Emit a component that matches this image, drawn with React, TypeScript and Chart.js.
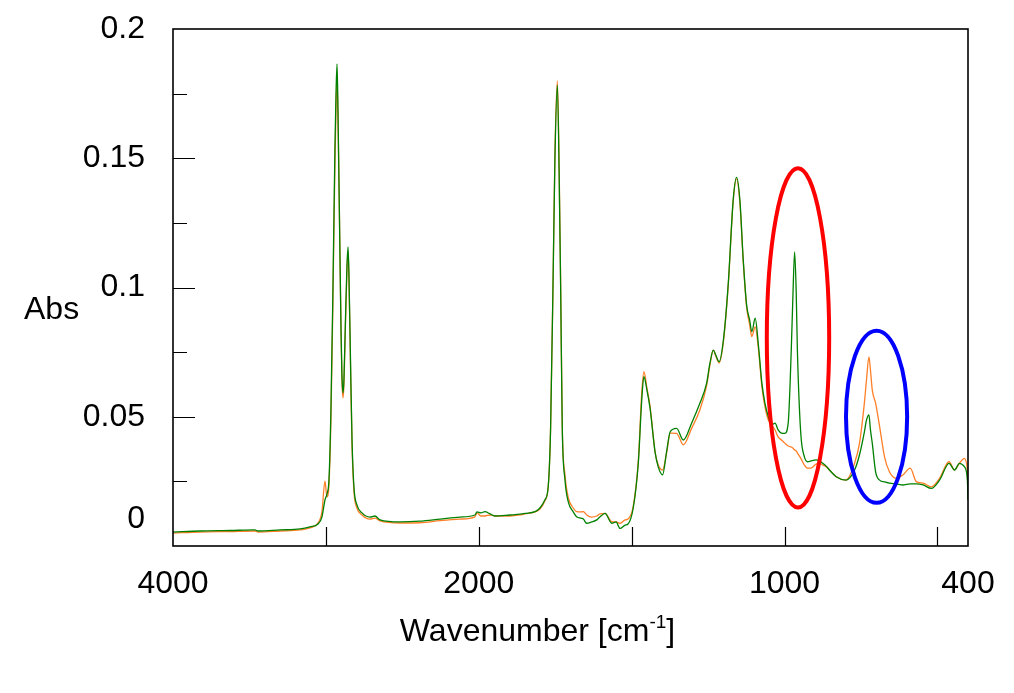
import React, { useEffect, useRef } from 'react';
import { Chart, registerables } from 'chart.js';

Chart.register(...registerables);

// Wavenumber (cm-1) of each sample point, shared by both spectra
const wavenumbers = [
  4000, 3823, 3627, 3464, 3444, 3300, 3169, 3104, 3052, 3026, 3006, 2993, 2980, 2967, 2954, 2941, 2934, 2927, 2921, 2911,
  2901, 2895, 2888, 2882, 2872, 2862, 2855, 2849, 2839, 2829, 2816, 2797, 2764, 2712, 2679, 2646, 2515, 2385, 2254, 2123,
  2025, 2012, 1993, 1980, 1963, 1947, 1898, 1865, 1849, 1816, 1800, 1784, 1773, 1765, 1756, 1751, 1743, 1737, 1732, 1727,
  1718, 1707, 1691, 1680, 1664, 1658, 1647, 1631, 1614, 1604, 1587, 1565, 1551, 1538, 1521, 1512, 1495, 1478, 1467, 1460,
  1450, 1440, 1423, 1413, 1399, 1385, 1374, 1353, 1331, 1304, 1277, 1255, 1244, 1233, 1225, 1214, 1200, 1184, 1168, 1157,
  1146, 1135, 1124, 1114, 1107, 1096, 1085, 1074, 1064, 1053, 1042, 1031, 1021, 1010, 999, 988, 978, 973, 967, 962,
  958, 947, 935, 924, 914, 897, 886, 875, 864, 853, 831, 799, 771, 755, 739, 732, 724, 719, 713, 702,
  689, 673, 657, 635, 613, 589, 569, 547, 520, 493, 462, 444, 428, 412, 402, 400,
];

// Green spectrum absorbance
const greenAbs = [
  0.0054, 0.0058, 0.0060, 0.0062, 0.0058, 0.0062, 0.0066, 0.0074, 0.0085, 0.0112, 0.0178, 0.0201, 0.0255, 0.0526, 0.0990, 0.1532, 0.1745, 0.1865, 0.1687, 0.1261,
  0.0836, 0.0662, 0.0592, 0.0642, 0.0874, 0.1087, 0.1157, 0.1048, 0.0720, 0.0410, 0.0224, 0.0159, 0.0128, 0.0112, 0.0116, 0.0101, 0.0093, 0.0096, 0.0104, 0.0112,
  0.0120, 0.0132, 0.0128, 0.0133, 0.0124, 0.0116, 0.0120, 0.0123, 0.0126, 0.0133, 0.0147, 0.0178, 0.0228, 0.0460, 0.1106, 0.1493, 0.1783, 0.1427, 0.0979, 0.0460,
  0.0255, 0.0170, 0.0132, 0.0113, 0.0107, 0.0104, 0.0088, 0.0093, 0.0101, 0.0112, 0.0126, 0.0088, 0.0093, 0.0068, 0.0081, 0.0085, 0.0146, 0.0325, 0.0565, 0.0655,
  0.0603, 0.0534, 0.0360, 0.0306, 0.0275, 0.0371, 0.0442, 0.0455, 0.0410, 0.0475, 0.0552, 0.0629, 0.0707, 0.0758, 0.0739, 0.0713, 0.0797, 0.1016, 0.1338, 0.1426,
  0.1338, 0.1106, 0.0932, 0.0874, 0.0829, 0.0881, 0.0771, 0.0629, 0.0552, 0.0500, 0.0468, 0.0475, 0.0449, 0.0437, 0.0436, 0.0476, 0.0758, 0.0952, 0.1138, 0.0990,
  0.0758, 0.0437, 0.0345, 0.0326, 0.0329, 0.0333, 0.0329, 0.0320, 0.0309, 0.0294, 0.0268, 0.0255, 0.0294, 0.0352, 0.0441, 0.0487, 0.0507, 0.0449, 0.0397, 0.0286,
  0.0255, 0.0248, 0.0243, 0.0240, 0.0236, 0.0240, 0.0240, 0.0236, 0.0223, 0.0255, 0.0320, 0.0294, 0.0320, 0.0307, 0.0255, 0.0178,
];

// Orange spectrum absorbance
const orangeAbs = [
  0.0050, 0.0054, 0.0056, 0.0058, 0.0054, 0.0058, 0.0062, 0.0070, 0.0089, 0.0132, 0.0251, 0.0190, 0.0236, 0.0487, 0.0952, 0.1474, 0.1687, 0.1803, 0.1667, 0.1261,
  0.0836, 0.0642, 0.0573, 0.0623, 0.0855, 0.1068, 0.1137, 0.1029, 0.0700, 0.0391, 0.0209, 0.0147, 0.0120, 0.0104, 0.0108, 0.0097, 0.0089, 0.0090, 0.0098, 0.0104,
  0.0113, 0.0128, 0.0116, 0.0116, 0.0120, 0.0116, 0.0116, 0.0120, 0.0124, 0.0132, 0.0143, 0.0174, 0.0228, 0.0460, 0.1106, 0.1513, 0.1799, 0.1455, 0.0990, 0.0468,
  0.0275, 0.0186, 0.0147, 0.0133, 0.0132, 0.0133, 0.0120, 0.0112, 0.0116, 0.0124, 0.0126, 0.0094, 0.0093, 0.0088, 0.0101, 0.0104, 0.0152, 0.0333, 0.0592, 0.0674,
  0.0611, 0.0542, 0.0360, 0.0313, 0.0294, 0.0364, 0.0437, 0.0436, 0.0391, 0.0455, 0.0526, 0.0619, 0.0700, 0.0758, 0.0735, 0.0708, 0.0789, 0.1010, 0.1333, 0.1420,
  0.1327, 0.1099, 0.0925, 0.0855, 0.0810, 0.0848, 0.0758, 0.0615, 0.0538, 0.0487, 0.0468, 0.0449, 0.0422, 0.0410, 0.0398, 0.0387, 0.0383, 0.0379, 0.0371, 0.0368,
  0.0360, 0.0340, 0.0313, 0.0301, 0.0301, 0.0317, 0.0320, 0.0313, 0.0307, 0.0294, 0.0268, 0.0255, 0.0320, 0.0397, 0.0552, 0.0642, 0.0732, 0.0681, 0.0603, 0.0552,
  0.0462, 0.0345, 0.0287, 0.0262, 0.0275, 0.0301, 0.0249, 0.0243, 0.0229, 0.0262, 0.0326, 0.0294, 0.0320, 0.0339, 0.0294, 0.0255,
];

const xTickWavenumbers = [3000, 2000, 1500, 1000, 500];
const xLabelWavenumbers = [4000, 2000, 1000, 400];
const yMajorValues = [0, 0.05, 0.1, 0.15, 0.2];
const yMinorValues = [0.025, 0.075, 0.125, 0.175];
const yLabels = ['0', '0.05', '0.1', '0.15', '0.2'];
const xTitle = 'Wavenumber [cm';
const xTitleSup = '-1';
const xTitleEnd = ']';
const yTitle = 'Abs';

// Highlight ellipses in data units: centre wavenumber, centre absorbance, half-width (cm-1), half-height (abs)
const ellipseCentersW = [956, 699];
const ellipseCentersA = [0.0805, 0.05];
const ellipseHalfW = [102, 100];
const ellipseHalfA = [0.0656, 0.0333];
const ellipseColors = ['#ff0000', '#0000ff'];

const FONT = '"Liberation Sans", Arial, sans-serif';
const FONT_SIZE = 32;

// FTIR axis: 4000-2000 at half scale, 2000-400 at full scale
const toT = (w: number) => (w >= 2000 ? (4000 - w) / 2 : 1000 + (2000 - w));

const decorPlugin = {
  id: 'decor',
  afterDatasetsDraw(chart: any) {
    const { ctx, chartArea } = chart;
    const xs = chart.scales.x;
    const ys = chart.scales.y;
    const { left, right, top, bottom } = chartArea;
    ctx.save();
    // ellipses
    ellipseCentersW.forEach((w, i) => {
      const cx = xs.getPixelForValue(toT(w));
      const cy = ys.getPixelForValue(ellipseCentersA[i]);
      const rx = Math.abs(xs.getPixelForValue(toT(w + ellipseHalfW[i])) - xs.getPixelForValue(toT(w - ellipseHalfW[i]))) / 2;
      const ry = Math.abs(ys.getPixelForValue(ellipseCentersA[i] + ellipseHalfA[i]) - ys.getPixelForValue(ellipseCentersA[i] - ellipseHalfA[i])) / 2;
      ctx.beginPath();
      ctx.ellipse(cx, cy, rx, ry, 0, 0, Math.PI * 2);
      ctx.strokeStyle = ellipseColors[i];
      ctx.lineWidth = 4;
      ctx.stroke();
    });
    // ticks
    ctx.strokeStyle = '#000';
    ctx.lineWidth = 1.2;
    ctx.beginPath();
    xTickWavenumbers.forEach((w) => {
      const px = Math.round(xs.getPixelForValue(toT(w))) + 0.5;
      ctx.moveTo(px, bottom);
      ctx.lineTo(px, bottom - 19);
    });
    yMajorValues.forEach((v) => {
      if (v <= 0 || v >= 0.2) return;
      const py = Math.round(ys.getPixelForValue(v)) + 0.5;
      ctx.moveTo(left, py);
      ctx.lineTo(left + 22, py);
    });
    yMinorValues.forEach((v) => {
      const py = Math.round(ys.getPixelForValue(v)) + 0.5;
      ctx.moveTo(left, py);
      ctx.lineTo(left + 14, py);
    });
    ctx.stroke();
    // frame
    ctx.lineWidth = 1.6;
    ctx.strokeRect(left, top, right - left, bottom - top);
    // "0" label, lifted above the x labels
    ctx.fillStyle = '#000';
    ctx.font = `${FONT_SIZE}px ${FONT}`;
    ctx.textAlign = 'right';
    ctx.textBaseline = 'middle';
    ctx.fillText(yLabels[0], left - 28, ys.getPixelForValue(0) - 27);
    // y title
    ctx.textAlign = 'left';
    ctx.textBaseline = 'alphabetic';
    ctx.fillText(yTitle, 24, 319);
    // x title with superscript
    const w1 = ctx.measureText(xTitle).width;
    const w3 = ctx.measureText(xTitleEnd).width;
    ctx.font = `19px ${FONT}`;
    const w2 = ctx.measureText(xTitleSup).width;
    const total = w1 + w2 + w3;
    let x0 = 537.5 - total / 2;
    ctx.font = `${FONT_SIZE}px ${FONT}`;
    ctx.fillText(xTitle, x0, 641);
    x0 += w1;
    ctx.font = `19px ${FONT}`;
    ctx.fillText(xTitleSup, x0, 628);
    x0 += w2;
    ctx.font = `${FONT_SIZE}px ${FONT}`;
    ctx.fillText(xTitleEnd, x0, 641);
    ctx.restore();
  },
};

export default function App() {
  const canvasRef = useRef<HTMLCanvasElement | null>(null);

  useEffect(() => {
    document.body.style.margin = '0';
    const canvas = canvasRef.current;
    if (!canvas) return;
    const lineStyle = {
      borderWidth: 1.3,
      pointRadius: 0,
      cubicInterpolationMode: 'monotone' as const,
      fill: false,
    };
    const chart = new Chart(canvas, {
      type: 'line',
      data: {
        datasets: [
          {
            label: 'green',
            data: wavenumbers.map((w, i) => ({ x: toT(w), y: greenAbs[i] })),
            borderColor: '#008000',
            ...lineStyle,
          },
          {
            label: 'orange',
            data: wavenumbers.map((w, i) => ({ x: toT(w), y: orangeAbs[i] })),
            borderColor: '#ff7f27',
            ...lineStyle,
          },
        ],
      },
      options: {
        animation: false,
        responsive: false,
        devicePixelRatio: 1,
        layout: { padding: { left: 0, right: 46, top: 29, bottom: 0 } },
        plugins: { legend: { display: false }, tooltip: { enabled: false } },
        scales: {
          x: {
            type: 'linear',
            min: 0,
            max: toT(400),
            grid: { display: false, drawTicks: false },
            border: { display: false },
            afterBuildTicks: (s: any) => {
              s.ticks = xLabelWavenumbers.map((w) => ({ value: toT(w) }));
            },
            afterFit: (s: any) => {
              s.height = 147;
              s.paddingLeft = 0;
              s.paddingRight = 0;
            },
            ticks: {
              autoSkip: false,
              maxRotation: 0,
              minRotation: 0,
              padding: 19,
              color: '#000',
              font: { family: FONT, size: FONT_SIZE },
              callback: (_v: any, i: number) => String(xLabelWavenumbers[i]),
            },
          },
          y: {
            type: 'linear',
            min: 0,
            max: 0.2,
            grid: { display: false, drawTicks: false },
            border: { display: false },
            afterBuildTicks: (s: any) => {
              s.ticks = yMajorValues.map((v) => ({ value: v }));
            },
            afterFit: (s: any) => {
              s.width = 173;
              s.paddingTop = 0;
              s.paddingBottom = 0;
            },
            ticks: {
              autoSkip: false,
              padding: 28,
              color: '#000',
              font: { family: FONT, size: FONT_SIZE },
              callback: (_v: any, i: number) => (i === 0 ? '' : yLabels[i]),
            },
          },
        },
      },
      plugins: [decorPlugin],
    });
    return () => chart.destroy();
  }, []);

  return (
    <div style={{ width: 1014, height: 693 }}>
      <canvas ref={canvasRef} width={1014} height={693} />
    </div>
  );
}
